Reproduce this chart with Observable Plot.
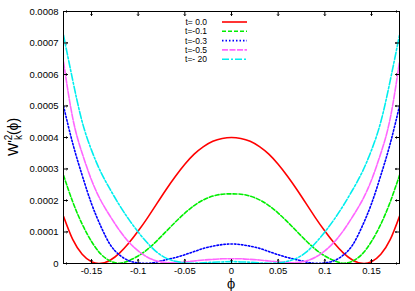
<!DOCTYPE html>
<html>
<head>
<meta charset="utf-8">
<script src="https://cdn.jsdelivr.net/npm/d3@7"></script>
<script src="https://cdn.jsdelivr.net/npm/@observablehq/plot@0.6"></script>
<style>
  html, body { margin: 0; padding: 0; background: #fff; }
  #chart svg { display: block; }
</style>
</head>
<body>
<div id="chart"></div>
<script>
// phi sample positions
const phi = [-0.18, -0.17, -0.16, -0.15, -0.14, -0.13, -0.12, -0.11, -0.10, -0.09,
             -0.08, -0.07, -0.06, -0.05, -0.04, -0.03, -0.02, -0.01, 0,
             0.01, 0.02, 0.03, 0.04, 0.05, 0.06, 0.07, 0.08, 0.09, 0.10,
             0.11, 0.12, 0.13, 0.14, 0.15, 0.16, 0.17, 0.18];

// W'^2_k(phi) for each t
const w_t00 = [0.00015, 0.0000755, 0.0000295, 0.0000055, 0.0000003, 0.0000105, 0.000033, 0.000065, 0.000103, 0.000145,
               0.00019, 0.000235, 0.000277, 0.000315, 0.000347, 0.000371, 0.000388, 0.000397, 0.0004,
               0.000397, 0.000388, 0.000371, 0.000347, 0.000315, 0.000277, 0.000235, 0.00019, 0.000145, 0.000103,
               0.000065, 0.000033, 0.0000105, 0.0000003, 0.0000055, 0.0000295, 0.0000755, 0.00015];
const w_t01 = [0.00028, 0.000195, 0.000125, 0.00007, 0.00003, 0.000008, 0.000001, 0.000009, 0.000024, 0.000045,
               0.000072, 0.000102, 0.000132, 0.00016, 0.000184, 0.000202, 0.000214, 0.00022, 0.000221,
               0.00022, 0.000214, 0.000202, 0.000184, 0.00016, 0.000132, 0.000102, 0.000072, 0.000045, 0.000024,
               0.000009, 0.000001, 0.000008, 0.00003, 0.00007, 0.000125, 0.000195, 0.00028];
const w_t03 = [0.0005, 0.00038, 0.00028, 0.00019, 0.000118, 0.00006, 0.000027, 0.000009, 0.000002, 0.0000005,
               0.000005, 0.000012, 0.000019, 0.000028, 0.000038, 0.000048, 0.000055, 0.00006, 0.000062,
               0.00006, 0.000055, 0.000048, 0.000038, 0.000028, 0.000019, 0.000012, 0.000005, 0.0000005, 0.000002,
               0.000009, 0.000027, 0.00006, 0.000118, 0.00019, 0.00028, 0.00038, 0.0005];
const w_t05 = [0.00064, 0.00046, 0.00035, 0.000265, 0.0002, 0.00015, 0.000105, 0.000068, 0.00004, 0.00002,
               0.000008, 0.000003, 0.000003, 0.000005, 0.000008, 0.000011, 0.000013, 0.000015, 0.000015,
               0.000015, 0.000013, 0.000011, 0.000008, 0.000005, 0.000003, 0.000003, 0.000008, 0.00002, 0.00004,
               0.000068, 0.000105, 0.00015, 0.0002, 0.000265, 0.00035, 0.00046, 0.00064];
const w_t20 = [0.000725, 0.00058, 0.00045, 0.00036, 0.00029, 0.000235, 0.000185, 0.00014, 0.0001, 0.000065,
               0.000036, 0.000017, 0.000007, 0.000002, 0.000001, 0.000002, 0.000004, 0.000005, 0.000006,
               0.000005, 0.000004, 0.000002, 0.000001, 0.000002, 0.000007, 0.000017, 0.000036, 0.000065, 0.0001,
               0.00014, 0.000185, 0.000235, 0.00029, 0.00036, 0.00045, 0.00058, 0.000725];

const seriesNames = ["t= 0.0", "t=-0.1", "t=-0.3", "t=-0.5", "t=- 20"];
const seriesValues = [w_t00, w_t01, w_t03, w_t05, w_t20];
const seriesColors = ["#ff0000", "#00ee00", "#0000ff", "#ff66ff", "#00eeee"];
const seriesDash = [null, "4,2", "1.5,2", "6,1.5", "7,2,2,2"];

const xTicks = [-0.15, -0.1, -0.05, 0, 0.05, 0.1, 0.15];
const yTicks = [0, 0.0001, 0.0002, 0.0003, 0.0004, 0.0005, 0.0006, 0.0007, 0.0008];

const W = 415, H = 291;
const mL = 63, mR = 16, mT = 11, mB = 28;

const lineMarks = seriesNames.map((name, i) =>
  Plot.line(phi.map((p, j) => ({phi: p, w: seriesValues[i][j]})), {
    x: "phi", y: "w",
    stroke: seriesColors[i],
    strokeWidth: 1.6,
    strokeDasharray: seriesDash[i],
    curve: "natural",
    clip: true
  })
);

const chart = Plot.plot({
  width: W, height: H,
  marginLeft: mL, marginRight: mR, marginTop: mT, marginBottom: mB,
  style: {fontFamily: "'Liberation Sans', Arial, sans-serif", fontSize: "9.5px", color: "#000", background: "#fff"},
  x: {domain: [-0.18, 0.18], ticks: xTicks, tickSize: 0, tickPadding: 4,
      tickFormat: d => String(+d.toFixed(2)), label: null},
  y: {domain: [0, 0.0008], ticks: yTicks, tickSize: 0, tickPadding: 5,
      tickFormat: d => d === 0 ? "0" : d.toFixed(4), label: null},
  marks: [
    ...lineMarks,
    Plot.vector(xTicks, {x: d => d, frameAnchor: "bottom", length: 4, anchor: "start", rotate: 0, stroke: "#000", strokeWidth: 1}),
    Plot.vector(xTicks, {x: d => d, frameAnchor: "top", length: 4, anchor: "start", rotate: 180, stroke: "#000", strokeWidth: 1}),
    Plot.vector(yTicks, {y: d => d, frameAnchor: "left", length: 4, anchor: "start", rotate: 90, stroke: "#000", strokeWidth: 1}),
    Plot.vector(yTicks, {y: d => d, frameAnchor: "right", length: 4, anchor: "start", rotate: 270, stroke: "#000", strokeWidth: 1}),
    Plot.frame({stroke: "#000", strokeWidth: 1})
  ]
});

const svg = d3.select(chart);
const fam = "'Liberation Sans', Arial, sans-serif";

// x axis title
svg.append("text")
  .attr("x", mL + (W - mL - mR) / 2)
  .attr("y", H - 3)
  .attr("text-anchor", "middle")
  .attr("font-family", "'DejaVu Serif', serif")
  .attr("font-size", 12)
  .attr("fill", "#000")
  .text("ϕ");

// y axis title  W'^2_k(phi)
const yt = svg.append("text")
  .attr("transform", `translate(18,${mT + (H - mT - mB) / 2}) rotate(-90)`)
  .attr("text-anchor", "middle")
  .attr("font-family", fam)
  .attr("font-size", 14)
  .attr("fill", "#000");
yt.append("tspan").text("W'");
yt.append("tspan").attr("font-size", 10).attr("dy", -6).text("2");
yt.append("tspan").attr("font-size", 10).attr("dx", -5.5).attr("dy", 10).text("k");
yt.append("tspan").attr("dy", -4).text("(ϕ)");

// legend
const lg = svg.append("g");
seriesNames.forEach((name, i) => {
  const y = 22 + i * 9.3;
  lg.append("text")
    .attr("x", 207).attr("y", y).attr("dy", "0.35em")
    .attr("text-anchor", "end")
    .attr("font-family", fam).attr("font-size", 8.5).attr("fill", "#000")
    .text(name);
  lg.append("line")
    .attr("x1", 222).attr("x2", 247).attr("y1", y).attr("y2", y)
    .attr("stroke", seriesColors[i]).attr("stroke-width", 1.6)
    .attr("stroke-dasharray", seriesDash[i]);
});

document.getElementById("chart").appendChild(chart);
</script>
</body>
</html>
